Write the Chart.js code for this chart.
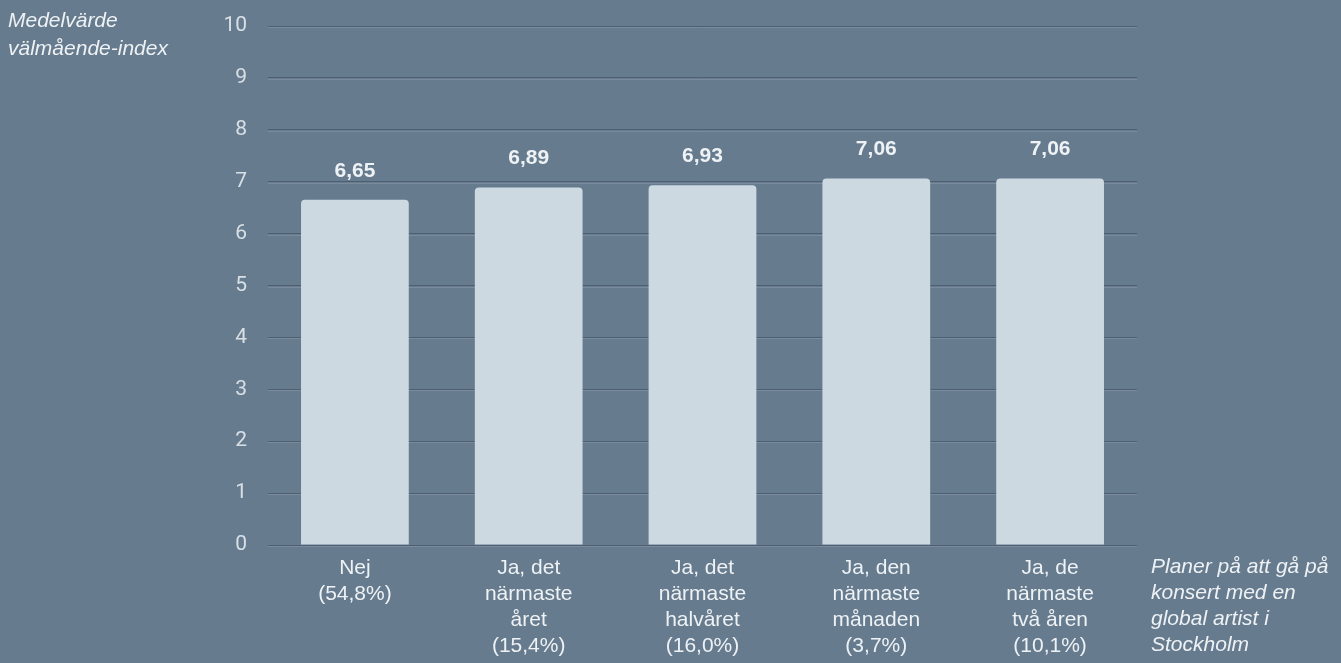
<!DOCTYPE html>
<html>
<head>
<meta charset="utf-8">
<script src="https://cdn.jsdelivr.net/npm/chart.js@4/dist/chart.umd.min.js"></script>
<style>
  html, body { margin: 0; padding: 0; background: #667b8e; }
  #wrap { width: 1341px; height: 663px; position: relative; }
</style>
</head>
<body>
<div id="wrap"><canvas id="chart"></canvas></div>
<script>
// data
const categories = [
  ['Nej', '(54,8%)'],
  ['Ja, det', 'närmaste', 'året', '(15,4%)'],
  ['Ja, det', 'närmaste', 'halvåret', '(16,0%)'],
  ['Ja, den', 'närmaste', 'månaden', '(3,7%)'],
  ['Ja, de', 'närmaste', 'två åren', '(10,1%)']
];
const values = [6.65, 6.89, 6.93, 7.06, 7.06];
const yTitle = ['Medelvärde', 'välmående-index'];
const xTitle = ['Planer på att gå på', 'konsert med en', 'global artist i', 'Stockholm'];

const textColor = '#eef2f5';
const tickColor = '#d8e0e6';
const gridColor = '#4d6073';
const gridLight = '#7a8b9b';
const barColor = '#cdd9e1';
const fontFam = '"Liberation Sans", Arial, sans-serif';

// ljus linje under varje stödlinje (präglad effekt)
const gridPlugin = {
  id: 'gridHighlight',
  beforeDatasetsDraw(chart) {
    const ctx = chart.ctx;
    const y = chart.scales.y;
    const area = chart.chartArea;
    ctx.save();
    ctx.strokeStyle = gridLight;
    ctx.lineWidth = 1;
    y.ticks.forEach(t => {
      const py = Math.round(y.getPixelForValue(t.value)) + 1.5;
      ctx.beginPath();
      ctx.moveTo(area.left, py);
      ctx.lineTo(area.right, py);
      ctx.stroke();
    });
    ctx.restore();
  }
};

// etiketter ovanför staplar + axeltitlar
const labelPlugin = {
  id: 'labels',
  afterDatasetsDraw(chart) {
    const ctx = chart.ctx;
    const meta = chart.getDatasetMeta(0);
    ctx.save();
    ctx.fillStyle = textColor;
    ctx.font = 'bold 21px ' + fontFam;
    ctx.textAlign = 'center';
    ctx.textBaseline = 'middle';
    meta.data.forEach((bar, i) => {
      ctx.fillText(values[i].toFixed(2).replace('.', ','), bar.x, bar.y - 29);
    });

    ctx.font = 'italic 21px ' + fontFam;
    ctx.textAlign = 'left';
    yTitle.forEach((t, i) => ctx.fillText(t, 8, 21 + i * 28));
    const area = chart.chartArea;
    xTitle.forEach((t, i) => ctx.fillText(t, area.right + 14, 567 + i * 26));
    ctx.restore();
  }
};

new Chart(document.getElementById('chart'), {
  type: 'bar',
  data: {
    labels: categories,
    datasets: [{
      data: values,
      backgroundColor: barColor,
      borderRadius: { topLeft: 4, topRight: 4 },
      borderSkipped: false,
      barPercentage: 0.62,
      categoryPercentage: 1
    }]
  },
  options: {
    responsive: true,
    maintainAspectRatio: false,
    animation: false,
    layout: { padding: { top: 26, right: 204, left: 0, bottom: 0 } },
    plugins: {
      legend: { display: false },
      tooltip: { enabled: false }
    },
    scales: {
      x: {
        grid: { display: false, drawTicks: false },
        border: { display: false },
        ticks: {
          color: textColor,
          font: { family: fontFam, size: 21, lineHeight: 26 / 21 },
          maxRotation: 0,
          autoSkip: false,
          padding: 10
        },
        afterFit(scale) {
          scale.height = 118;
          scale.paddingTop = 0;
          scale.paddingBottom = 0;
        }
      },
      y: {
        min: 0,
        max: 10,
        grid: { color: gridColor, lineWidth: 1, drawTicks: false },
        border: { display: false },
        ticks: {
          stepSize: 1,
          color: tickColor,
          font: { family: 'Roboto, sans-serif', size: 21 },
          padding: 21
        },
        afterFit(scale) {
          scale.width = 268;
          scale.paddingTop = 0;
          scale.paddingBottom = 0;
        }
      }
    }
  },
  plugins: [gridPlugin, labelPlugin]
});
</script>
</body>
</html>
